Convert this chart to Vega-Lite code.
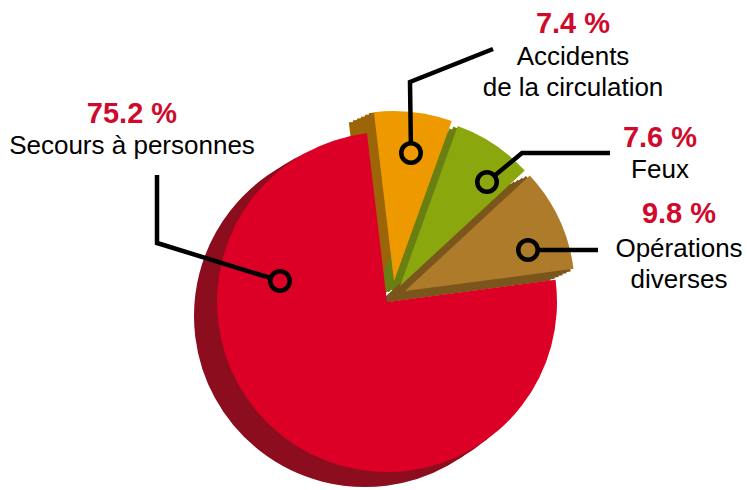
{
  "$schema": "https://vega.github.io/schema/vega-lite/v6.json",
  "width": 747,
  "height": 490,
  "autosize": {"type": "fit", "contains": "padding"},
  "padding": 0,
  "background": "white",
  "config": {"view": {"stroke": null}},
  "datasets": {
    "parts": [
      {"categorie": "Secours à personnes", "pct": 75.2, "ordre": 1},
      {"categorie": "Accidents de la circulation", "pct": 7.4, "ordre": 2},
      {"categorie": "Feux", "pct": 7.6, "ordre": 3},
      {"categorie": "Opérations diverses", "pct": 9.8, "ordre": 4}
    ],
    "reperes": [
      {"categorie": "Secours à personnes", "rang": 1, "x": -107, "y": 21},
      {"categorie": "Secours à personnes", "rang": 2, "x": -230, "y": 59},
      {"categorie": "Secours à personnes", "rang": 3, "x": -230, "y": 127},
      {"categorie": "Accidents de la circulation", "rang": 1, "x": 24, "y": 149},
      {"categorie": "Accidents de la circulation", "rang": 2, "x": 23, "y": 220},
      {"categorie": "Accidents de la circulation", "rang": 3, "x": 106, "y": 253},
      {"categorie": "Feux", "rang": 1, "x": 100, "y": 120},
      {"categorie": "Feux", "rang": 2, "x": 135, "y": 149},
      {"categorie": "Feux", "rang": 3, "x": 223, "y": 149},
      {"categorie": "Opérations diverses", "rang": 1, "x": 141, "y": 52},
      {"categorie": "Opérations diverses", "rang": 2, "x": 211, "y": 52}
    ],
    "etiquettes": [
      {"categorie": "Secours à personnes", "pourcentage": "75.2 %", "nom": ["Secours à personnes"], "x": -255, "yp": 179, "yn": 148},
      {"categorie": "Accidents de la circulation", "pourcentage": "7.4 %", "nom": ["Accidents", "de la circulation"], "x": 186, "yp": 269, "yn": 237},
      {"categorie": "Feux", "pourcentage": "7.6 %", "nom": ["Feux"], "x": 273, "yp": 155, "yn": 124},
      {"categorie": "Opérations diverses", "pourcentage": "9.8 %", "nom": ["Opérations", "diverses"], "x": 292, "yp": 79, "yn": 45}
    ]
  },
  "layer": [
    {"data": {"name": "parts"}, "transform": [{"stack": "pct", "groupby": [], "sort": [{"field": "ordre", "order": "ascending"}], "as": ["debut", "fin"]}, {"filter": "datum.ordre == 1"}],
     "mark": {"type": "arc", "outerRadius": 170, "fill": "#8c0d1d", "stroke": "#8c0d1d", "strokeWidth": 2},
     "encoding": {"x": {"datum": -11, "type": "quantitative", "scale": {"domain": [-387, 360], "nice": false, "zero": false}, "axis": null}, "y": {"datum": -7, "type": "quantitative", "scale": {"domain": [-188, 302], "nice": false, "zero": false}, "axis": null}, "theta": {"field": "debut", "type": "quantitative", "scale": {"domain": [0, 100], "range": [1.4399, 7.7231]}}, "theta2": {"field": "fin"}}},
    {"data": {"name": "parts"}, "transform": [{"stack": "pct", "groupby": [], "sort": [{"field": "ordre", "order": "ascending"}], "as": ["debut", "fin"]}, {"filter": "datum.ordre == 1"}],
     "mark": {"type": "arc", "outerRadius": 170, "fill": "#8c0d1d", "stroke": "#8c0d1d", "strokeWidth": 2},
     "encoding": {"x": {"datum": -22, "type": "quantitative", "scale": {"domain": [-387, 360], "nice": false, "zero": false}, "axis": null}, "y": {"datum": -14, "type": "quantitative", "scale": {"domain": [-188, 302], "nice": false, "zero": false}, "axis": null}, "theta": {"field": "debut", "type": "quantitative", "scale": {"domain": [0, 100], "range": [1.4399, 7.7231]}}, "theta2": {"field": "fin"}}},

    {"data": {"name": "parts"}, "transform": [{"stack": "pct", "groupby": [], "sort": [{"field": "ordre", "order": "ascending"}], "as": ["debut", "fin"]}, {"filter": "datum.ordre == 2"}],
     "mark": {"type": "arc", "outerRadius": 170, "fill": "#9b6508", "stroke": "#9b6508", "strokeWidth": 2},
     "encoding": {"x": {"datum": 3, "type": "quantitative", "scale": {"domain": [-387, 360], "nice": false, "zero": false}, "axis": null}, "y": {"datum": 19.17, "type": "quantitative", "scale": {"domain": [-188, 302], "nice": false, "zero": false}, "axis": null}, "theta": {"field": "debut", "type": "quantitative", "scale": {"domain": [0, 100], "range": [1.4399, 7.7231]}}, "theta2": {"field": "fin"}}},
    {"data": {"name": "parts"}, "transform": [{"stack": "pct", "groupby": [], "sort": [{"field": "ordre", "order": "ascending"}], "as": ["debut", "fin"]}, {"filter": "datum.ordre == 2"}],
     "mark": {"type": "arc", "outerRadius": 170, "fill": "#9b6508", "stroke": "#9b6508", "strokeWidth": 2},
     "encoding": {"x": {"datum": -1, "type": "quantitative", "scale": {"domain": [-387, 360], "nice": false, "zero": false}, "axis": null}, "y": {"datum": 17.33, "type": "quantitative", "scale": {"domain": [-188, 302], "nice": false, "zero": false}, "axis": null}, "theta": {"field": "debut", "type": "quantitative", "scale": {"domain": [0, 100], "range": [1.4399, 7.7231]}}, "theta2": {"field": "fin"}}},
    {"data": {"name": "parts"}, "transform": [{"stack": "pct", "groupby": [], "sort": [{"field": "ordre", "order": "ascending"}], "as": ["debut", "fin"]}, {"filter": "datum.ordre == 2"}],
     "mark": {"type": "arc", "outerRadius": 170, "fill": "#9b6508", "stroke": "#9b6508", "strokeWidth": 2},
     "encoding": {"x": {"datum": -5, "type": "quantitative", "scale": {"domain": [-387, 360], "nice": false, "zero": false}, "axis": null}, "y": {"datum": 15.5, "type": "quantitative", "scale": {"domain": [-188, 302], "nice": false, "zero": false}, "axis": null}, "theta": {"field": "debut", "type": "quantitative", "scale": {"domain": [0, 100], "range": [1.4399, 7.7231]}}, "theta2": {"field": "fin"}}},
    {"data": {"name": "parts"}, "transform": [{"stack": "pct", "groupby": [], "sort": [{"field": "ordre", "order": "ascending"}], "as": ["debut", "fin"]}, {"filter": "datum.ordre == 2"}],
     "mark": {"type": "arc", "outerRadius": 170, "fill": "#9b6508", "stroke": "#9b6508", "strokeWidth": 2},
     "encoding": {"x": {"datum": -9, "type": "quantitative", "scale": {"domain": [-387, 360], "nice": false, "zero": false}, "axis": null}, "y": {"datum": 13.67, "type": "quantitative", "scale": {"domain": [-188, 302], "nice": false, "zero": false}, "axis": null}, "theta": {"field": "debut", "type": "quantitative", "scale": {"domain": [0, 100], "range": [1.4399, 7.7231]}}, "theta2": {"field": "fin"}}},
    {"data": {"name": "parts"}, "transform": [{"stack": "pct", "groupby": [], "sort": [{"field": "ordre", "order": "ascending"}], "as": ["debut", "fin"]}, {"filter": "datum.ordre == 2"}],
     "mark": {"type": "arc", "outerRadius": 170, "fill": "#9b6508", "stroke": "#9b6508", "strokeWidth": 2},
     "encoding": {"x": {"datum": -13, "type": "quantitative", "scale": {"domain": [-387, 360], "nice": false, "zero": false}, "axis": null}, "y": {"datum": 11.83, "type": "quantitative", "scale": {"domain": [-188, 302], "nice": false, "zero": false}, "axis": null}, "theta": {"field": "debut", "type": "quantitative", "scale": {"domain": [0, 100], "range": [1.4399, 7.7231]}}, "theta2": {"field": "fin"}}},
    {"data": {"name": "parts"}, "transform": [{"stack": "pct", "groupby": [], "sort": [{"field": "ordre", "order": "ascending"}], "as": ["debut", "fin"]}, {"filter": "datum.ordre == 2"}],
     "mark": {"type": "arc", "outerRadius": 170, "fill": "#9b6508", "stroke": "#9b6508", "strokeWidth": 2},
     "encoding": {"x": {"datum": -17, "type": "quantitative", "scale": {"domain": [-387, 360], "nice": false, "zero": false}, "axis": null}, "y": {"datum": 10, "type": "quantitative", "scale": {"domain": [-188, 302], "nice": false, "zero": false}, "axis": null}, "theta": {"field": "debut", "type": "quantitative", "scale": {"domain": [0, 100], "range": [1.4399, 7.7231]}}, "theta2": {"field": "fin"}}},

    {"data": {"name": "parts"}, "transform": [{"stack": "pct", "groupby": [], "sort": [{"field": "ordre", "order": "ascending"}], "as": ["debut", "fin"]}, {"filter": "datum.ordre == 3"}],
     "mark": {"type": "arc", "outerRadius": 170, "fill": "#6a7f12", "stroke": "#6a7f12", "strokeWidth": 2},
     "encoding": {"x": {"datum": 9, "type": "quantitative", "scale": {"domain": [-387, 360], "nice": false, "zero": false}, "axis": null}, "y": {"datum": 14.17, "type": "quantitative", "scale": {"domain": [-188, 302], "nice": false, "zero": false}, "axis": null}, "theta": {"field": "debut", "type": "quantitative", "scale": {"domain": [0, 100], "range": [1.4399, 7.7231]}}, "theta2": {"field": "fin"}}},
    {"data": {"name": "parts"}, "transform": [{"stack": "pct", "groupby": [], "sort": [{"field": "ordre", "order": "ascending"}], "as": ["debut", "fin"]}, {"filter": "datum.ordre == 3"}],
     "mark": {"type": "arc", "outerRadius": 170, "fill": "#6a7f12", "stroke": "#6a7f12", "strokeWidth": 2},
     "encoding": {"x": {"datum": 5, "type": "quantitative", "scale": {"domain": [-387, 360], "nice": false, "zero": false}, "axis": null}, "y": {"datum": 12.33, "type": "quantitative", "scale": {"domain": [-188, 302], "nice": false, "zero": false}, "axis": null}, "theta": {"field": "debut", "type": "quantitative", "scale": {"domain": [0, 100], "range": [1.4399, 7.7231]}}, "theta2": {"field": "fin"}}},
    {"data": {"name": "parts"}, "transform": [{"stack": "pct", "groupby": [], "sort": [{"field": "ordre", "order": "ascending"}], "as": ["debut", "fin"]}, {"filter": "datum.ordre == 3"}],
     "mark": {"type": "arc", "outerRadius": 170, "fill": "#6a7f12", "stroke": "#6a7f12", "strokeWidth": 2},
     "encoding": {"x": {"datum": 1, "type": "quantitative", "scale": {"domain": [-387, 360], "nice": false, "zero": false}, "axis": null}, "y": {"datum": 10.5, "type": "quantitative", "scale": {"domain": [-188, 302], "nice": false, "zero": false}, "axis": null}, "theta": {"field": "debut", "type": "quantitative", "scale": {"domain": [0, 100], "range": [1.4399, 7.7231]}}, "theta2": {"field": "fin"}}},
    {"data": {"name": "parts"}, "transform": [{"stack": "pct", "groupby": [], "sort": [{"field": "ordre", "order": "ascending"}], "as": ["debut", "fin"]}, {"filter": "datum.ordre == 3"}],
     "mark": {"type": "arc", "outerRadius": 170, "fill": "#6a7f12", "stroke": "#6a7f12", "strokeWidth": 2},
     "encoding": {"x": {"datum": -3, "type": "quantitative", "scale": {"domain": [-387, 360], "nice": false, "zero": false}, "axis": null}, "y": {"datum": 8.67, "type": "quantitative", "scale": {"domain": [-188, 302], "nice": false, "zero": false}, "axis": null}, "theta": {"field": "debut", "type": "quantitative", "scale": {"domain": [0, 100], "range": [1.4399, 7.7231]}}, "theta2": {"field": "fin"}}},
    {"data": {"name": "parts"}, "transform": [{"stack": "pct", "groupby": [], "sort": [{"field": "ordre", "order": "ascending"}], "as": ["debut", "fin"]}, {"filter": "datum.ordre == 3"}],
     "mark": {"type": "arc", "outerRadius": 170, "fill": "#6a7f12", "stroke": "#6a7f12", "strokeWidth": 2},
     "encoding": {"x": {"datum": -7, "type": "quantitative", "scale": {"domain": [-387, 360], "nice": false, "zero": false}, "axis": null}, "y": {"datum": 6.83, "type": "quantitative", "scale": {"domain": [-188, 302], "nice": false, "zero": false}, "axis": null}, "theta": {"field": "debut", "type": "quantitative", "scale": {"domain": [0, 100], "range": [1.4399, 7.7231]}}, "theta2": {"field": "fin"}}},
    {"data": {"name": "parts"}, "transform": [{"stack": "pct", "groupby": [], "sort": [{"field": "ordre", "order": "ascending"}], "as": ["debut", "fin"]}, {"filter": "datum.ordre == 3"}],
     "mark": {"type": "arc", "outerRadius": 170, "fill": "#6a7f12", "stroke": "#6a7f12", "strokeWidth": 2},
     "encoding": {"x": {"datum": -11, "type": "quantitative", "scale": {"domain": [-387, 360], "nice": false, "zero": false}, "axis": null}, "y": {"datum": 5, "type": "quantitative", "scale": {"domain": [-188, 302], "nice": false, "zero": false}, "axis": null}, "theta": {"field": "debut", "type": "quantitative", "scale": {"domain": [0, 100], "range": [1.4399, 7.7231]}}, "theta2": {"field": "fin"}}},

    {"data": {"name": "parts"}, "transform": [{"stack": "pct", "groupby": [], "sort": [{"field": "ordre", "order": "ascending"}], "as": ["debut", "fin"]}, {"filter": "datum.ordre == 4"}],
     "mark": {"type": "arc", "outerRadius": 170, "fill": "#7b561c", "stroke": "#7b561c", "strokeWidth": 2},
     "encoding": {"x": {"datum": 14, "type": "quantitative", "scale": {"domain": [-387, 360], "nice": false, "zero": false}, "axis": null}, "y": {"datum": 9.17, "type": "quantitative", "scale": {"domain": [-188, 302], "nice": false, "zero": false}, "axis": null}, "theta": {"field": "debut", "type": "quantitative", "scale": {"domain": [0, 100], "range": [1.4399, 7.7231]}}, "theta2": {"field": "fin"}}},
    {"data": {"name": "parts"}, "transform": [{"stack": "pct", "groupby": [], "sort": [{"field": "ordre", "order": "ascending"}], "as": ["debut", "fin"]}, {"filter": "datum.ordre == 4"}],
     "mark": {"type": "arc", "outerRadius": 170, "fill": "#7b561c", "stroke": "#7b561c", "strokeWidth": 2},
     "encoding": {"x": {"datum": 10, "type": "quantitative", "scale": {"domain": [-387, 360], "nice": false, "zero": false}, "axis": null}, "y": {"datum": 7.33, "type": "quantitative", "scale": {"domain": [-188, 302], "nice": false, "zero": false}, "axis": null}, "theta": {"field": "debut", "type": "quantitative", "scale": {"domain": [0, 100], "range": [1.4399, 7.7231]}}, "theta2": {"field": "fin"}}},
    {"data": {"name": "parts"}, "transform": [{"stack": "pct", "groupby": [], "sort": [{"field": "ordre", "order": "ascending"}], "as": ["debut", "fin"]}, {"filter": "datum.ordre == 4"}],
     "mark": {"type": "arc", "outerRadius": 170, "fill": "#7b561c", "stroke": "#7b561c", "strokeWidth": 2},
     "encoding": {"x": {"datum": 6, "type": "quantitative", "scale": {"domain": [-387, 360], "nice": false, "zero": false}, "axis": null}, "y": {"datum": 5.5, "type": "quantitative", "scale": {"domain": [-188, 302], "nice": false, "zero": false}, "axis": null}, "theta": {"field": "debut", "type": "quantitative", "scale": {"domain": [0, 100], "range": [1.4399, 7.7231]}}, "theta2": {"field": "fin"}}},
    {"data": {"name": "parts"}, "transform": [{"stack": "pct", "groupby": [], "sort": [{"field": "ordre", "order": "ascending"}], "as": ["debut", "fin"]}, {"filter": "datum.ordre == 4"}],
     "mark": {"type": "arc", "outerRadius": 170, "fill": "#7b561c", "stroke": "#7b561c", "strokeWidth": 2},
     "encoding": {"x": {"datum": 2, "type": "quantitative", "scale": {"domain": [-387, 360], "nice": false, "zero": false}, "axis": null}, "y": {"datum": 3.67, "type": "quantitative", "scale": {"domain": [-188, 302], "nice": false, "zero": false}, "axis": null}, "theta": {"field": "debut", "type": "quantitative", "scale": {"domain": [0, 100], "range": [1.4399, 7.7231]}}, "theta2": {"field": "fin"}}},
    {"data": {"name": "parts"}, "transform": [{"stack": "pct", "groupby": [], "sort": [{"field": "ordre", "order": "ascending"}], "as": ["debut", "fin"]}, {"filter": "datum.ordre == 4"}],
     "mark": {"type": "arc", "outerRadius": 170, "fill": "#7b561c", "stroke": "#7b561c", "strokeWidth": 2},
     "encoding": {"x": {"datum": -2, "type": "quantitative", "scale": {"domain": [-387, 360], "nice": false, "zero": false}, "axis": null}, "y": {"datum": 1.83, "type": "quantitative", "scale": {"domain": [-188, 302], "nice": false, "zero": false}, "axis": null}, "theta": {"field": "debut", "type": "quantitative", "scale": {"domain": [0, 100], "range": [1.4399, 7.7231]}}, "theta2": {"field": "fin"}}},
    {"data": {"name": "parts"}, "transform": [{"stack": "pct", "groupby": [], "sort": [{"field": "ordre", "order": "ascending"}], "as": ["debut", "fin"]}, {"filter": "datum.ordre == 4"}],
     "mark": {"type": "arc", "outerRadius": 170, "fill": "#7b561c", "stroke": "#7b561c", "strokeWidth": 2},
     "encoding": {"x": {"datum": -6, "type": "quantitative", "scale": {"domain": [-387, 360], "nice": false, "zero": false}, "axis": null}, "y": {"datum": 0, "type": "quantitative", "scale": {"domain": [-188, 302], "nice": false, "zero": false}, "axis": null}, "theta": {"field": "debut", "type": "quantitative", "scale": {"domain": [0, 100], "range": [1.4399, 7.7231]}}, "theta2": {"field": "fin"}}},

    {"data": {"name": "parts"}, "transform": [{"stack": "pct", "groupby": [], "sort": [{"field": "ordre", "order": "ascending"}], "as": ["debut", "fin"]}, {"filter": "datum.ordre == 1"}],
     "mark": {"type": "arc", "outerRadius": 170, "fill": "#dc0026"},
     "encoding": {"x": {"datum": 0, "type": "quantitative", "scale": {"domain": [-387, 360], "nice": false, "zero": false}, "axis": null}, "y": {"datum": 0, "type": "quantitative", "scale": {"domain": [-188, 302], "nice": false, "zero": false}, "axis": null}, "theta": {"field": "debut", "type": "quantitative", "scale": {"domain": [0, 100], "range": [1.4399, 7.7231]}}, "theta2": {"field": "fin"}}},
    {"data": {"name": "parts"}, "transform": [{"stack": "pct", "groupby": [], "sort": [{"field": "ordre", "order": "ascending"}], "as": ["debut", "fin"]}, {"filter": "datum.ordre == 2"}],
     "mark": {"type": "arc", "outerRadius": 170, "fill": "#ef9900"},
     "encoding": {"x": {"datum": 7, "type": "quantitative", "scale": {"domain": [-387, 360], "nice": false, "zero": false}, "axis": null}, "y": {"datum": 21, "type": "quantitative", "scale": {"domain": [-188, 302], "nice": false, "zero": false}, "axis": null}, "theta": {"field": "debut", "type": "quantitative", "scale": {"domain": [0, 100], "range": [1.4399, 7.7231]}}, "theta2": {"field": "fin"}}},
    {"data": {"name": "parts"}, "transform": [{"stack": "pct", "groupby": [], "sort": [{"field": "ordre", "order": "ascending"}], "as": ["debut", "fin"]}, {"filter": "datum.ordre == 3"}],
     "mark": {"type": "arc", "outerRadius": 170, "fill": "#8aa70d"},
     "encoding": {"x": {"datum": 13, "type": "quantitative", "scale": {"domain": [-387, 360], "nice": false, "zero": false}, "axis": null}, "y": {"datum": 16, "type": "quantitative", "scale": {"domain": [-188, 302], "nice": false, "zero": false}, "axis": null}, "theta": {"field": "debut", "type": "quantitative", "scale": {"domain": [0, 100], "range": [1.4399, 7.7231]}}, "theta2": {"field": "fin"}}},
    {"data": {"name": "parts"}, "transform": [{"stack": "pct", "groupby": [], "sort": [{"field": "ordre", "order": "ascending"}], "as": ["debut", "fin"]}, {"filter": "datum.ordre == 4"}],
     "mark": {"type": "arc", "outerRadius": 170, "fill": "#ad7b2a"},
     "encoding": {"x": {"datum": 18, "type": "quantitative", "scale": {"domain": [-387, 360], "nice": false, "zero": false}, "axis": null}, "y": {"datum": 11, "type": "quantitative", "scale": {"domain": [-188, 302], "nice": false, "zero": false}, "axis": null}, "theta": {"field": "debut", "type": "quantitative", "scale": {"domain": [0, 100], "range": [1.4399, 7.7231]}}, "theta2": {"field": "fin"}}},

    {"data": {"name": "reperes"},
     "mark": {"type": "line", "stroke": "black", "strokeWidth": 4.5, "strokeJoin": "miter", "strokeCap": "butt"},
     "encoding": {
       "x": {"field": "x", "type": "quantitative", "scale": {"domain": [-387, 360], "nice": false, "zero": false}, "axis": null},
       "y": {"field": "y", "type": "quantitative", "scale": {"domain": [-188, 302], "nice": false, "zero": false}, "axis": null},
       "detail": {"field": "categorie"},
       "order": {"field": "rang"}}},
    {"data": {"name": "reperes"},
     "transform": [{"filter": "datum.rang == 1"}],
     "mark": {"type": "point", "shape": "circle", "filled": true, "opacity": 1, "stroke": "black", "strokeWidth": 4.5, "size": 380},
     "encoding": {
       "x": {"field": "x", "type": "quantitative", "scale": {"domain": [-387, 360], "nice": false, "zero": false}, "axis": null},
       "y": {"field": "y", "type": "quantitative", "scale": {"domain": [-188, 302], "nice": false, "zero": false}, "axis": null},
       "fill": {"field": "categorie", "type": "nominal", "legend": null,
         "scale": {"domain": ["Secours à personnes", "Accidents de la circulation", "Feux", "Opérations diverses"],
                   "range": ["#dc0026", "#ef9900", "#8aa70d", "#ad7b2a"]}}}},
    {"data": {"name": "etiquettes"},
     "mark": {"type": "text", "font": "Liberation Sans", "fontWeight": "bold", "fontSize": 29, "fill": "#cf0a2c", "align": "center", "baseline": "alphabetic"},
     "encoding": {
       "x": {"field": "x", "type": "quantitative", "scale": {"domain": [-387, 360], "nice": false, "zero": false}, "axis": null},
       "y": {"field": "yp", "type": "quantitative", "scale": {"domain": [-188, 302], "nice": false, "zero": false}, "axis": null},
       "text": {"field": "pourcentage"}}},
    {"data": {"name": "etiquettes"},
     "mark": {"type": "text", "font": "Liberation Sans", "fontSize": 26, "fill": "black", "align": "center", "baseline": "alphabetic", "lineHeight": 31},
     "encoding": {
       "x": {"field": "x", "type": "quantitative", "scale": {"domain": [-387, 360], "nice": false, "zero": false}, "axis": null},
       "y": {"field": "yn", "type": "quantitative", "scale": {"domain": [-188, 302], "nice": false, "zero": false}, "axis": null},
       "text": {"field": "nom"}}}
  ]
}
